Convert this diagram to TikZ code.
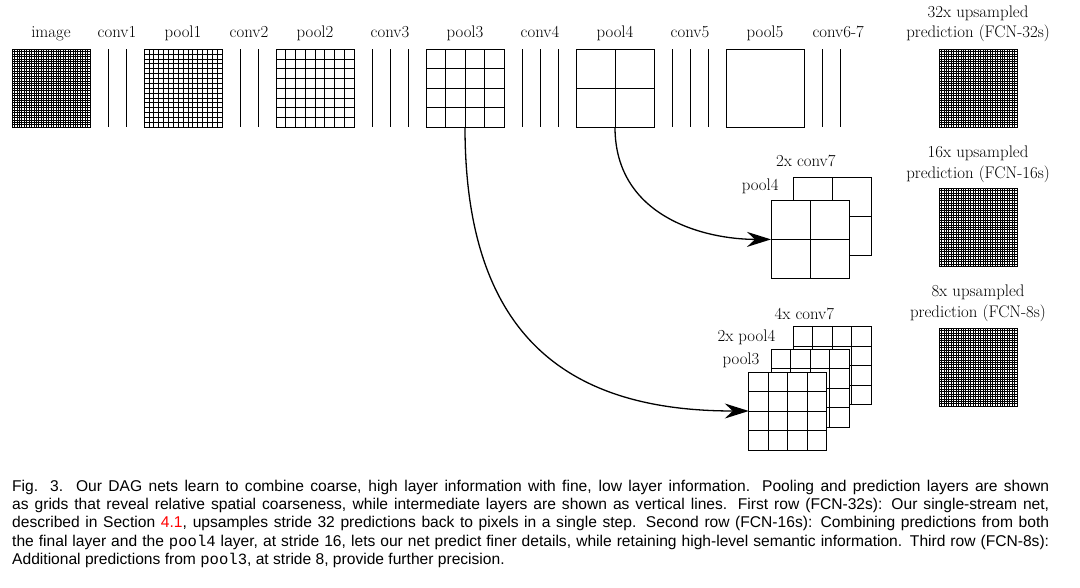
\documentclass[tikz,border=0pt]{standalone}
\usepackage{fontspec}
\usetikzlibrary{arrows.meta}
\newfontfamily\capfont{Liberation Sans}
\newfontfamily\captt{Liberation Mono}
\newcommand{\cellgrid}[2]{%
  \pgfmathsetmacro{\cellstep}{1.3/#2}
  \begin{scope}[shift={(#1.south west)}]
    \draw[line width=.7pt,step=\cellstep] (0,0) grid (1.3,1.3);
  \end{scope}}
\begin{document}
\begin{tikzpicture}[x=60pt,y=60pt,
  layer/.style={draw,line width=.8pt,fill=white,minimum size=78pt,inner sep=0pt,outer sep=0pt},
  lbl/.style={anchor=base,inner sep=0pt,align=center,font=\fontsize{16.8}{20.7}\selectfont},
  conv/.style={line width=.8pt},
  skip/.style={line width=1.3pt,-{Stealth[length=24pt,width=15pt,inset=8pt]}}]
\useasboundingbox (0,0) rectangle (18,-9.8);

% first row
\node[layer] (image) at (0.85,-1.47) {};
\cellgrid{image}{32}
\draw[conv] (1.8,-0.82) -- (1.8,-2.12);
\draw[conv] (2.1,-0.82) -- (2.1,-2.12);
\node[layer] (pool1) at (3.05,-1.47) {};
\cellgrid{pool1}{16}
\draw[conv] (4.0,-0.82) -- (4.0,-2.12);
\draw[conv] (4.3,-0.82) -- (4.3,-2.12);
\node[layer] (pool2) at (5.25,-1.47) {};
\cellgrid{pool2}{8}
\draw[conv] (6.2,-0.82) -- (6.2,-2.12);
\draw[conv] (6.5,-0.82) -- (6.5,-2.12);
\draw[conv] (6.8,-0.82) -- (6.8,-2.12);
\node[layer] (pool3) at (7.75,-1.47) {};
\cellgrid{pool3}{4}
\draw[conv] (8.7,-0.82) -- (8.7,-2.12);
\draw[conv] (9.0,-0.82) -- (9.0,-2.12);
\draw[conv] (9.3,-0.82) -- (9.3,-2.12);
\node[layer] (pool4) at (10.25,-1.47) {};
\cellgrid{pool4}{2}
\draw[conv] (11.2,-0.82) -- (11.2,-2.12);
\draw[conv] (11.5,-0.82) -- (11.5,-2.12);
\draw[conv] (11.8,-0.82) -- (11.8,-2.12);
\node[layer] (pool5) at (12.75,-1.47) {};
\draw[conv] (13.7,-0.82) -- (13.7,-2.12);
\draw[conv] (14.0,-0.82) -- (14.0,-2.12);
\node[layer] (pred32) at (16.3,-1.47) {};
\cellgrid{pred32}{32}

\node[lbl] (t-image) at (0.85,-0.633) {image};
\node[lbl] (t-conv1) at (1.95,-0.633) {conv1};
\node[lbl] (t-pool1) at (3.05,-0.633) {pool1};
\node[lbl] (t-conv2) at (4.15,-0.633) {conv2};
\node[lbl] (t-pool2) at (5.25,-0.633) {pool2};
\node[lbl] (t-conv3) at (6.5,-0.633) {conv3};
\node[lbl] (t-pool3) at (7.75,-0.633) {pool3};
\node[lbl] (t-conv4) at (9.0,-0.633) {conv4};
\node[lbl] (t-pool4) at (10.25,-0.633) {pool4};
\node[lbl] (t-conv5) at (11.5,-0.633) {conv5};
\node[lbl] (t-pool5) at (12.75,-0.633) {pool5};
\node[lbl] (t-conv67) at (13.97,-0.633) {conv6-7};
\node[lbl] (t-pred32) at (16.3,-0.633) {32x upsampled\\prediction (FCN-32s)};

% second row
\node[layer] (conv7x2) at (13.87,-3.61) {};
\cellgrid{conv7x2}{2}
\node[layer] (pool4x1) at (13.5,-3.99) {};
\cellgrid{pool4x1}{2}
\node[layer] (pred16) at (16.3,-3.79) {};
\cellgrid{pred16}{32}
\node[lbl] (t-conv7x2) at (13.43,-2.78) {2x conv7};
\node[lbl] (t-pool4x1) at (12.67,-3.18) {pool4};
\node[lbl] (t-pred16) at (16.3,-2.967) {16x upsampled\\prediction (FCN-16s)};

% third row
\node[layer] (conv7x4) at (13.87,-6.095) {};
\cellgrid{conv7x4}{4}
\node[layer] (pool4x2) at (13.5,-6.47) {};
\cellgrid{pool4x2}{4}
\node[layer] (pool3x1) at (13.13,-6.85) {};
\cellgrid{pool3x1}{4}
\node[layer] (pred8) at (16.3,-6.12) {};
\cellgrid{pred8}{32}
\node[lbl] (t-conv7x4) at (13.405,-5.317) {4x conv7};
\node[lbl] (t-pool4x2) at (12.44,-5.695) {2x pool4};
\node[lbl] (t-pool3x1) at (12.35,-6.07) {pool3};
\node[lbl] (t-pred8) at (16.3,-5.29) {8x upsampled\\prediction (FCN-8s)};

% skips
\draw[skip] (pool4.south) .. controls +(0,-1.5) and +(-1.1,0) .. (pool4x1.west);
\draw[skip] (pool3.south) .. controls +(0,-3.6) and +(-2.9,0) .. (pool3x1.west);

% caption
\node[anchor=base west,inner sep=0pt,align=left,font=\capfont\fontsize{15.6}{18.4}\selectfont] (caption) at (0.2,-9.41)
{\makebox[1037pt][s]{Fig. 3.\ \ Our DAG nets learn to combine coarse, high layer information with fine, low layer information. Pooling and prediction layers are shown}\\
\makebox[1037pt][s]{as grids that reveal relative spatial coarseness, while intermediate layers are shown as vertical lines. First row (FCN-32s): Our single-stream net,}\\
\makebox[1037pt][s]{described in Section \textcolor{red}{4.1}, upsamples stride 32 predictions back to pixels in a single step. Second row (FCN-16s): Combining predictions from both}\\
\makebox[1037pt][s]{the final layer and the {\captt pool4} layer, at stride 16, lets our net predict finer details, while retaining high-level semantic information. Third row (FCN-8s):}\\
Additional predictions from {\captt pool3}, at stride 8, provide further precision.};
\end{tikzpicture}
\end{document}
